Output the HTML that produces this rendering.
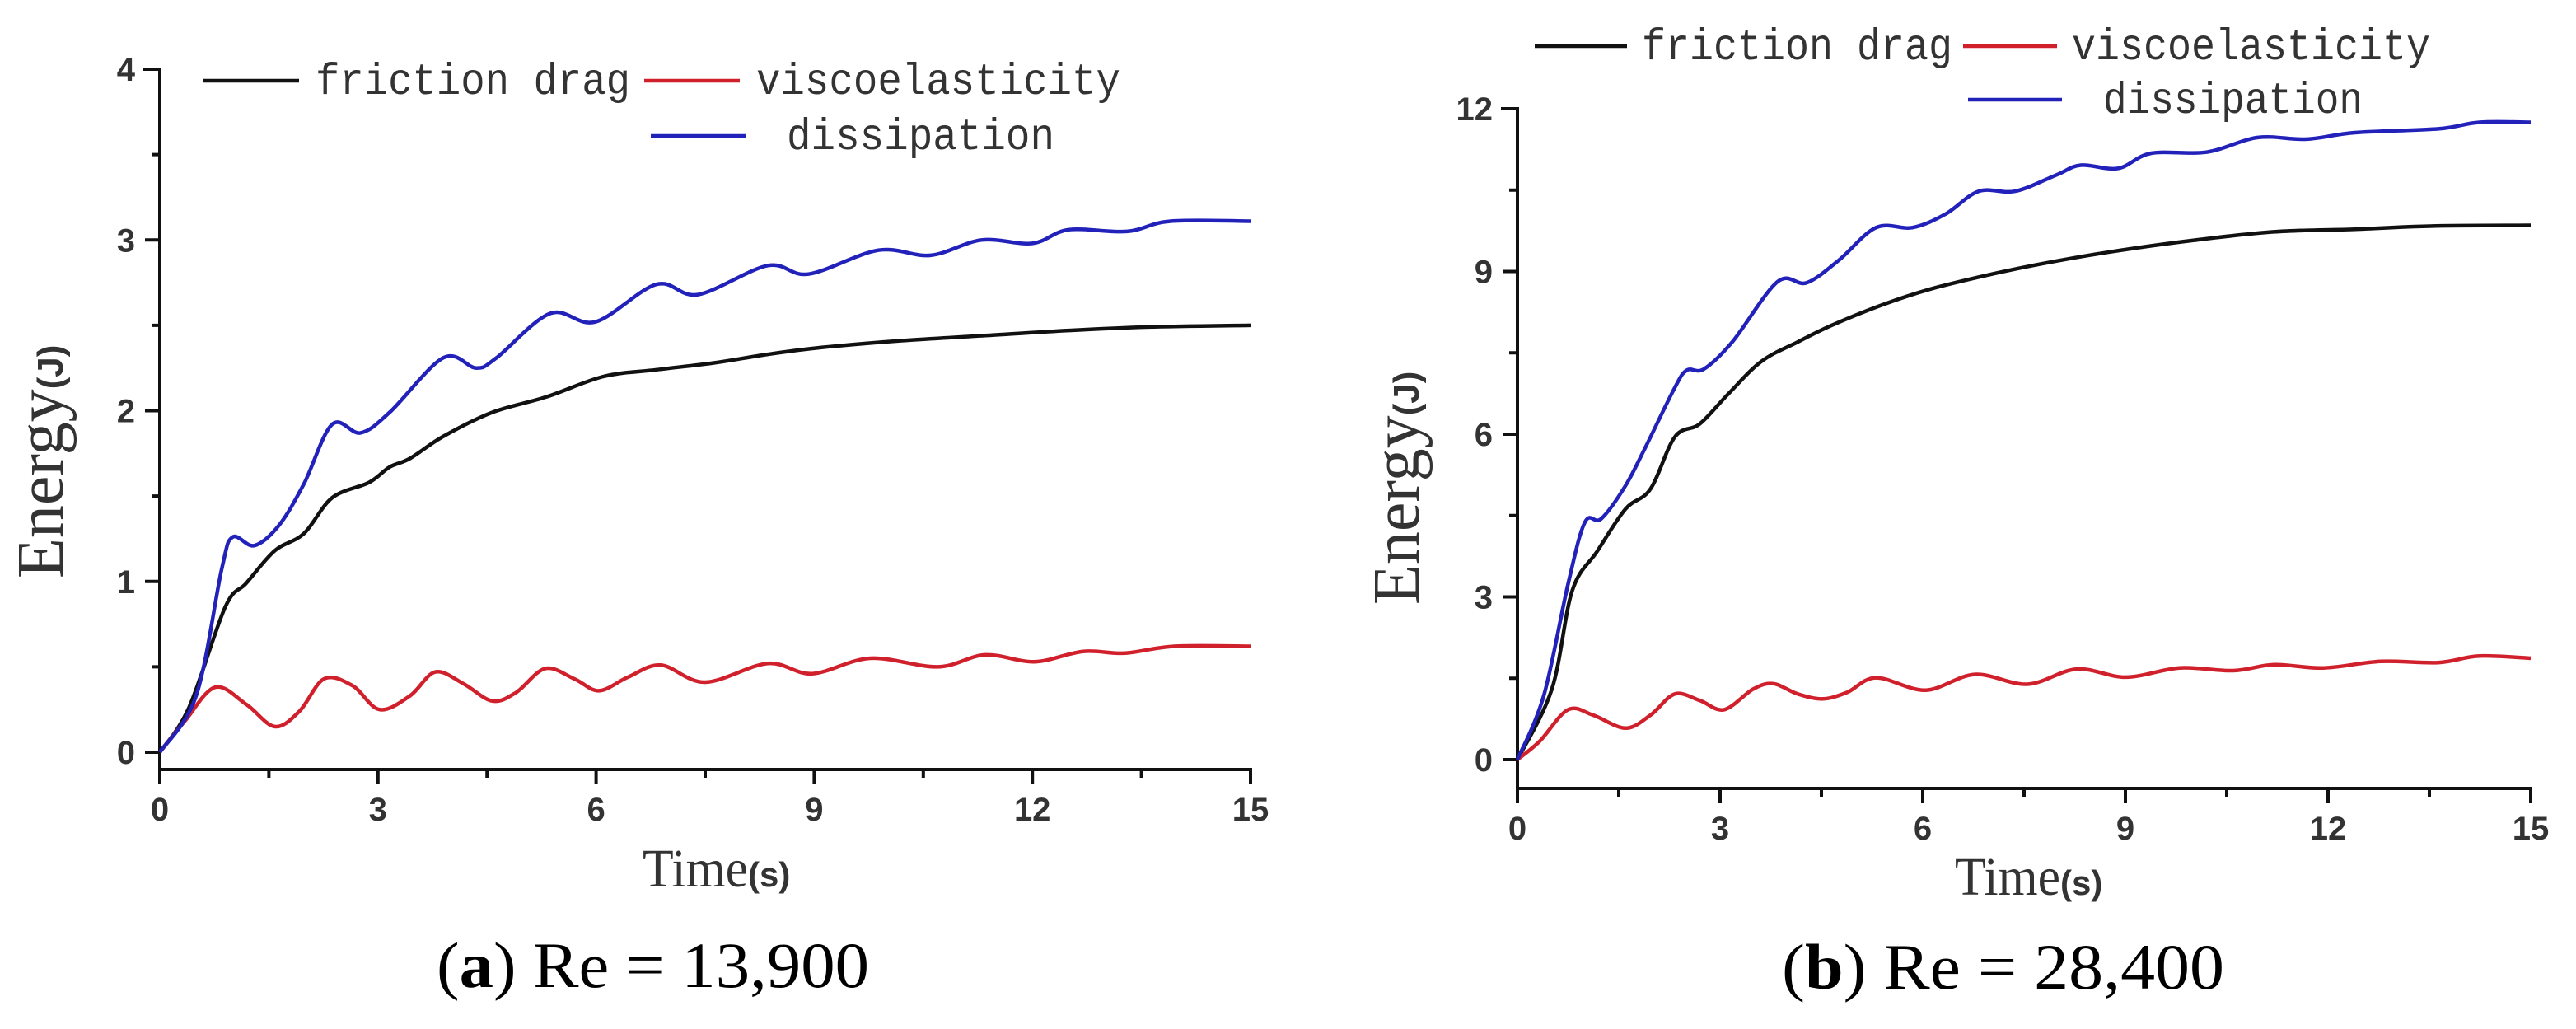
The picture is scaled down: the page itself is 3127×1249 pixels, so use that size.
<!DOCTYPE html>
<html><head><meta charset="utf-8"><style>
html,body{margin:0;padding:0;background:#fff}
svg{display:block}
</style></head><body>
<svg id="fig" width="3127" height="1249" viewBox="0 0 3127 1249" xmlns="http://www.w3.org/2000/svg">
<g id="ga"></g>
<g id="gb"></g>
</svg>
<script>
// ---- Chart (a) data ----
const aBlueT=[0,0.5,0.85,1.0,1.3,1.64,1.98,2.37,2.76,3.16,3.9,4.35,4.63,5.37,5.99,6.83,7.4,8.36,8.92,9.88,10.6,11.3,12,12.5,13.3,13.9,15];
const aBlueE=[0,0.33,1.07,1.26,1.21,1.33,1.57,1.92,1.87,1.99,2.31,2.25,2.31,2.57,2.52,2.74,2.68,2.85,2.80,2.94,2.91,3.0,2.98,3.06,3.05,3.11,3.11];
const aBlackT=[0,0.4,0.9,1.19,1.58,1.98,2.37,2.88,3.16,3.44,3.9,4.57,5.31,6.1,6.83,7.62,8.36,9.1,10.2,11.35,12.5,13.6,15];
const aBlackE=[0,0.26,0.85,0.99,1.18,1.28,1.49,1.58,1.67,1.72,1.85,1.99,2.08,2.2,2.24,2.28,2.33,2.37,2.41,2.44,2.47,2.49,2.5];
const aRedT=[0,0.34,0.76,1.19,1.58,1.92,2.26,2.65,3.02,3.44,3.79,4.18,4.57,4.9,5.3,5.7,6.04,6.44,6.89,7.5,8.36,8.97,9.77,10.7,11.35,12.03,12.7,13.27,13.95,15];
const aRedE=[0,0.18,0.38,0.28,0.15,0.24,0.43,0.39,0.25,0.33,0.47,0.40,0.30,0.35,0.49,0.43,0.36,0.44,0.51,0.41,0.52,0.46,0.55,0.50,0.57,0.53,0.59,0.58,0.62,0.62];
const aYTicks=["0","1","2","3","4"];
const aXTicks=["0","3","6","9","12","15"];
// ---- Chart (b) data ----
const bBlueT=[0,0.39,0.75,1.0,1.24,1.6,1.9,2.33,2.51,2.76,3.18,3.85,4.28,4.76,5.31,5.85,6.34,6.83,7.37,7.98,8.34,8.89,9.38,10.2,10.96,11.68,12.4,13.63,14.24,15];
const bBlueE=[0,1.18,3.24,4.38,4.44,5.05,5.77,6.86,7.18,7.2,7.7,8.81,8.79,9.21,9.81,9.81,10.06,10.48,10.48,10.78,10.96,10.9,11.18,11.2,11.47,11.44,11.56,11.63,11.75,11.75];
const bBlackT=[0,0.51,0.81,1.18,1.6,1.97,2.33,2.7,3.12,3.61,4.15,4.64,5.37,6.1,6.95,7.8,8.77,9.98,11.2,12.4,13.6,15];
const bBlackE=[0,1.3,3.11,3.84,4.62,4.99,5.95,6.19,6.74,7.34,7.70,8.0,8.37,8.67,8.93,9.15,9.36,9.57,9.73,9.78,9.84,9.85];
const bRedT=[0,0.33,0.75,1.12,1.6,1.97,2.33,2.7,3.06,3.49,3.79,4.15,4.52,4.88,5.31,6.04,6.77,7.55,8.28,9.01,9.8,10.6,11.2,11.93,12.78,13.63,14.24,15];
const bRedE=[0,0.34,0.92,0.82,0.58,0.82,1.21,1.09,0.92,1.30,1.40,1.21,1.12,1.24,1.51,1.28,1.57,1.39,1.67,1.52,1.69,1.64,1.75,1.69,1.81,1.79,1.91,1.87];
const bYTicks=["0","3","6","9","12"];
const bXTicks=["0","3","6","9","12","15"];

const NS="http://www.w3.org/2000/svg";
function mk(parent,tag,attrs,txt){const e=document.createElementNS(NS,tag);for(const k in attrs)e.setAttribute(k,attrs[k]);if(txt!==undefined)e.textContent=txt;parent.appendChild(e);return e;}
function smooth(pts){let d="M"+pts[0][0].toFixed(1)+","+pts[0][1].toFixed(1);for(let i=0;i<pts.length-1;i++){const p0=pts[i-1]||pts[i],p1=pts[i],p2=pts[i+1],p3=pts[i+2]||p2;const c1=[p1[0]+(p2[0]-p0[0])/6,p1[1]+(p2[1]-p0[1])/6],c2=[p2[0]-(p3[0]-p1[0])/6,p2[1]-(p3[1]-p1[1])/6];d+="C"+c1[0].toFixed(1)+","+c1[1].toFixed(1)+" "+c2[0].toFixed(1)+","+c2[1].toFixed(1)+" "+p2[0].toFixed(1)+","+p2[1].toFixed(1);}return d;}

function chart(g,cfg){
  const X=t=>cfg.x0+(t/cfg.xmax)*(cfg.x1-cfg.x0);
  const Y=v=>cfg.y0-(v/cfg.ymax)*(cfg.y0-cfg.y1);
  const ax=mk(g,"g",{stroke:"#111","stroke-width":4,fill:"none"});
  
  
  mk(ax,"path",{d:`M${cfg.x0-20},${cfg.y1}H${cfg.x0}V${cfg.xa+18}M${cfg.x0},${cfg.xa}H${cfg.x1}V${cfg.xa+18}`});
  const yticks=cfg.yt;const ystep=cfg.ymax/(yticks.length-1);
  for(let i=0;i<yticks.length;i++){
    const v=i*ystep,y=Y(v);
    mk(ax,"line",{x1:cfg.x0-18,y1:y,x2:cfg.x0,y2:y});
    if(i<yticks.length-1){const ym=Y(v+ystep/2);mk(ax,"line",{x1:cfg.x0-10,y1:ym,x2:cfg.x0,y2:ym});}
    const t=mk(g,"text",{x:cfg.x0-30,y:y+14,"text-anchor":"end","font-family":"Liberation Sans, sans-serif","font-size":40,"font-weight":"bold",fill:"#333"},yticks[i]);
    
    
  }
  const xt=cfg.xt;const xstep=cfg.xmax/(xt.length-1);
  for(let i=0;i<xt.length;i++){
    const t0=i*xstep,x=X(t0);
    mk(ax,"line",{x1:x,y1:cfg.xa,x2:x,y2:cfg.xa+18});
    if(i<xt.length-1){const xm=X(t0+xstep/2);mk(ax,"line",{x1:xm,y1:cfg.xa,x2:xm,y2:cfg.xa+10});}
    const t=mk(g,"text",{x:x,y:cfg.xa+62,"text-anchor":"middle","font-family":"Liberation Sans, sans-serif","font-size":40,"font-weight":"bold",fill:"#333"},xt[i]);
    
    
  }
  for(const s of cfg.series){
    const pts=s.t.map((t,i)=>[X(t),Y(s.e[i])]);
    const p=mk(g,"path",{d:smooth(pts),fill:"none",stroke:s.c,"stroke-width":4.5,"stroke-linejoin":"round"});
    
    
  }
}

function legend(g,L){
  const items=[["friction drag","#111",L.b],["viscoelasticity","#d0202c",L.r],["dissipation","#2222bb",L.d]];
  for(const [label,c,p] of items){
    const lg=mk(g,"g",{});
    
    
    mk(lg,"line",{x1:p[0],y1:p[2],x2:p[1],y2:p[2],stroke:c,"stroke-width":4.5});
    mk(lg,"text",{x:p[3],y:p[2]+16,"font-family":"Liberation Mono, monospace","font-size":54,fill:"#333",textLength:p[4],lengthAdjust:"spacingAndGlyphs"},label);
  }
}

function titles(g,T){
  const yt=mk(g,"text",{transform:`translate(${T.yx},${T.yy}) rotate(-90)`,"font-family":"Liberation Serif, serif","font-size":80,fill:"#333"});
  
  
  mk(yt,"tspan",{},"Energy");
  mk(yt,"tspan",{"font-family":"Liberation Sans, sans-serif","font-size":44,"font-weight":"bold"},"(J)");
  const xt=mk(g,"text",{x:T.xx,y:T.xy,"font-family":"Liberation Serif, serif","font-size":66,fill:"#333"});
  
  
  mk(xt,"tspan",{textLength:128,lengthAdjust:"spacingAndGlyphs"},"Time");
  mk(xt,"tspan",{"font-family":"Liberation Sans, sans-serif","font-size":42,"font-weight":"bold"},"(s)");
  const cap=mk(g,"text",{x:T.cx,y:T.cy,"font-family":"Liberation Serif, serif","font-size":78,fill:"#000",textLength:T.cw,lengthAdjust:"spacingAndGlyphs"});
  
  
  mk(cap,"tspan",{},"(");
  mk(cap,"tspan",{"font-weight":"bold"},T.letter);
  mk(cap,"tspan",{},") Re = "+T.re);
}

const ga=document.getElementById('ga'),gb=document.getElementById('gb');
chart(ga,{x0:194,x1:1518,y0:913,y1:84,xa:934,xmax:15,ymax:4,yt:aYTicks,xt:aXTicks,series:[
 {t:aBlackT,e:aBlackE,c:"#111",name:"friction-drag-line-a"},
 {t:aRedT,e:aRedE,c:"#d0202c",name:"viscoelasticity-line-a"},
 {t:aBlueT,e:aBlueE,c:"#2222bb",name:"dissipation-line-a"}]});
legend(ga,{b:[247,363,98,383,382],r:[782,898,98,918,442],d:[790,905,165,955,325]});
titles(ga,{yx:76,yy:702,xx:780,xy:1076,cx:530,cy:1198,cw:525,letter:"a",re:"13,900"});

chart(gb,{x0:1842,x1:3072,y0:922,y1:132,xa:957,xmax:15,ymax:12,yt:bYTicks,xt:bXTicks,series:[
 {t:bBlackT,e:bBlackE,c:"#111",name:"friction-drag-line-b"},
 {t:bRedT,e:bRedE,c:"#d0202c",name:"viscoelasticity-line-b"},
 {t:bBlueT,e:bBlueE,c:"#2222bb",name:"dissipation-line-b"}]});
legend(gb,{b:[1863,1975,56,1993,377],r:[2383,2497,56,2515,435],d:[2389,2503,121,2553,315]});
titles(gb,{yx:1722,yy:734,xx:2373,xy:1086,cx:2163,cy:1200,cw:537,letter:"b",re:"28,400"});
</script>
</body></html>
